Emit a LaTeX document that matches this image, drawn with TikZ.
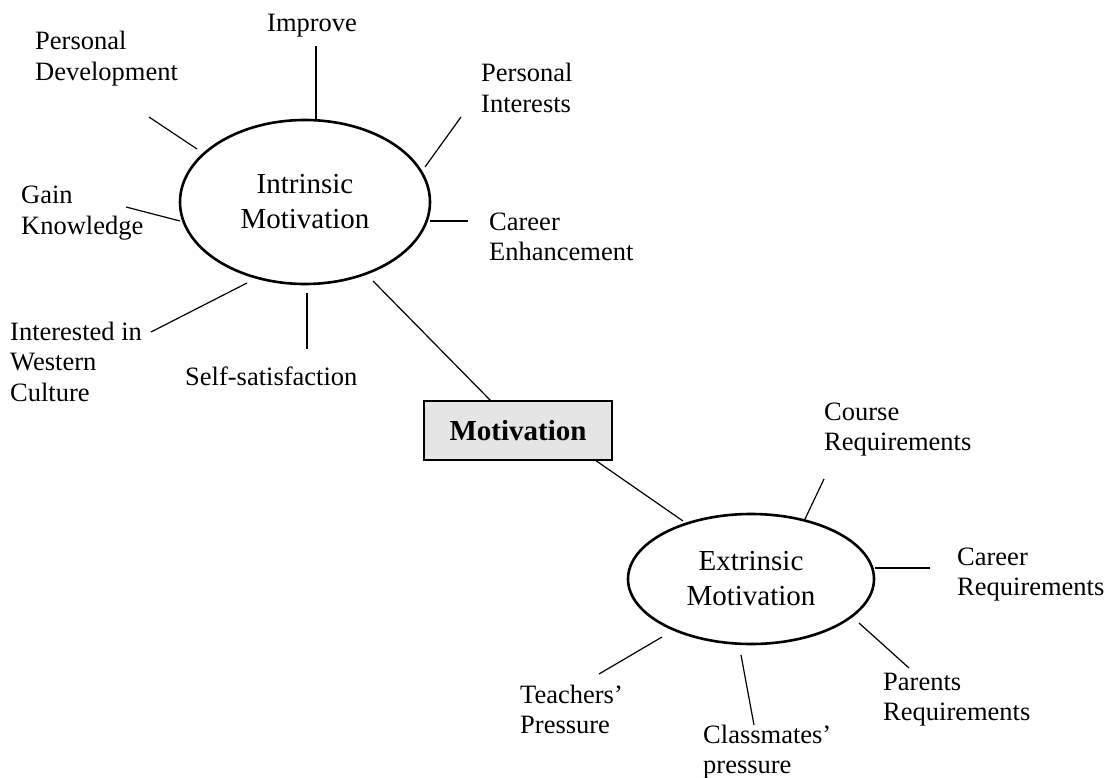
\documentclass[tikz,border=0pt]{standalone}
\usepackage{fontspec}
\setmainfont{Liberation Serif}
\usetikzlibrary{shapes.geometric}
% multi-line text whose baseline is the first line's baseline
\newcommand\stackedleft[1]{\vtop{\halign{##\hfil\cr#1\crcr}}}
\newcommand\stackedmid[1]{\vtop{\halign{\hfil##\hfil\cr#1\crcr}}}
\begin{document}
\begin{tikzpicture}[x=1pt,y=-1pt,
  spoke/.style={line width=1.2pt},
  lbl/.style={inner sep=0pt, anchor=base west, font=\fontsize{26.5}{30.5}\selectfont},
  motive/.style={ellipse, draw, line width=2.6pt, inner sep=0pt,
                 font=\fontsize{29}{35}\selectfont},
  hub/.style={rectangle, draw, line width=1.4pt, fill=gray!20, inner sep=0pt,
              minimum width=188pt, minimum height=59pt,
              font=\fontsize{29}{35}\selectfont\bfseries}]
\useasboundingbox (0,0) rectangle (1110,778);

% central box and the two ellipses
\node[hub] (motiv) at (518,430.5) {Motivation\hspace{8pt}};
\node[motive, minimum width=250pt, minimum height=164pt] (intr) at (305,202)
  {\stackedmid{Intrinsic\cr Motivation}};
\node[motive, minimum width=246pt, minimum height=130pt] (extr) at (751,579)
  {\stackedmid{Extrinsic\cr Motivation}};

% intrinsic factors
\node[lbl] (improve) at (267,32) {Improve};
\node[lbl] (persdev) at (35,50) {\stackedleft{Personal\cr Development}};
\node[lbl] (persint) at (481,82) {\stackedleft{Personal\cr Interests}};
\node[lbl] (gain) at (21,204) {\stackedleft{Gain\cr Knowledge}};
\node[lbl] (careerenh) at (489,230) {\stackedleft{Career\cr Enhancement}};
\node[lbl] (western) at (10,340) {\stackedleft{Interested in\cr Western\cr Culture}};
\node[lbl] (selfsat) at (185,385) {Self-satisfaction};

% extrinsic factors
\node[lbl] (course) at (824,420) {\stackedleft{Course\cr Requirements}};
\node[lbl] (careerreq) at (957,565) {\stackedleft{Career\cr Requirements}};
\node[lbl] (parents) at (883,690) {\stackedleft{Parents\cr Requirements}};
\node[lbl] (teachers) at (520,703) {\stackedleft{Teachers’\cr Pressure}};
\node[lbl] (classmates) at (703,743) {\stackedleft{Classmates’\cr pressure}};

% spoke end points
\coordinate (improve-e) at (316,46);   \coordinate (improve-i) at (316,119);
\coordinate (persdev-e) at (149,117);  \coordinate (persdev-i) at (197,149);
\coordinate (persint-e) at (461,117);  \coordinate (persint-i) at (425,167);
\coordinate (gain-e) at (126,207);     \coordinate (gain-i) at (180,221);
\coordinate (careerenh-e) at (468,221);\coordinate (careerenh-i) at (430,221);
\coordinate (western-e) at (151,332);  \coordinate (western-i) at (247,283);
\coordinate (selfsat-e) at (307,349);  \coordinate (selfsat-i) at (307,293);
\coordinate (intr-m) at (373,281);     \coordinate (motiv-i) at (491,401);
\coordinate (motiv-x) at (595,460);    \coordinate (extr-m) at (683,521);
\coordinate (course-e) at (824,479);   \coordinate (course-x) at (805,519);
\coordinate (careerreq-e) at (930,568);\coordinate (careerreq-x) at (875,568);
\coordinate (parents-e) at (909,668);  \coordinate (parents-x) at (859,623);
\coordinate (classmates-e) at (754,725);\coordinate (classmates-x) at (741,655);
\coordinate (teachers-e) at (599,674); \coordinate (teachers-x) at (662,637);

% spokes
\foreach \f in {improve,persdev,persint,gain,careerenh,western,selfsat}
  \draw[spoke] (\f-e) -- (\f-i);
\foreach \f in {course,careerreq,parents,classmates,teachers}
  \draw[spoke] (\f-e) -- (\f-x);
\draw[spoke] (intr-m) -- (motiv-i);
\draw[spoke] (motiv-x) -- (extr-m);
\end{tikzpicture}
\end{document}
